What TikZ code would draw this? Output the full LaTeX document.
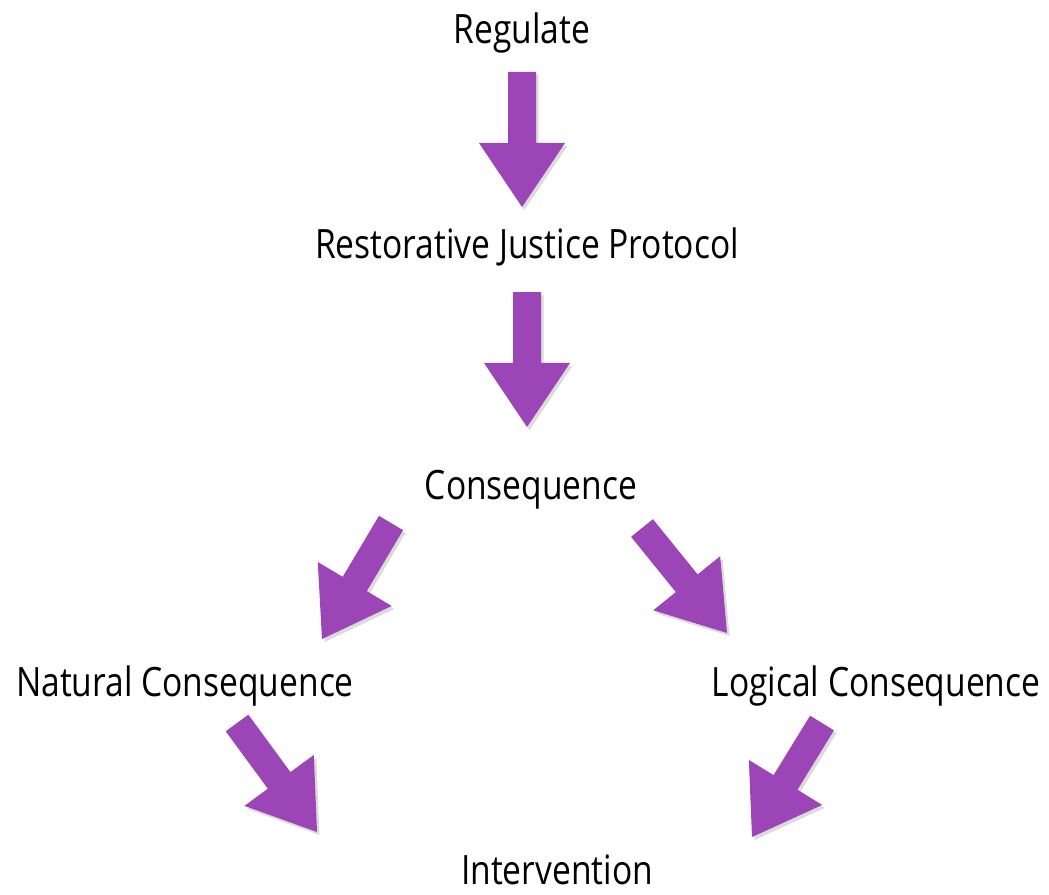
\documentclass[tikz,border=0pt]{standalone}
\usepackage{fontspec}
\setmainfont{Open Sans}[FakeStretch=0.83]
\usetikzlibrary{calc}
\definecolor{arrowpurple}{RGB}{156,69,182}
\newcommand{\FatArrow}[2]{
\coordinate (#2base) at ($(#2)!0.64cm!(#1)$); % Base of the head
\foreach \look in {arrowshadow, fatarrow}{
\path[\look] ($(#1)!0.14cm!90:(#2)$) -- ($(#2base)!0.14cm!-90:(#1)$) -- ($(#2base)!0.43cm!-90:(#1)$)
  -- (#2) -- ($(#2base)!0.43cm!90:(#1)$) -- ($(#2base)!0.14cm!90:(#1)$) -- ($(#1)!0.14cm!-90:(#2)$) -- cycle;
}
}

\begin{document}
\begin{tikzpicture}[x=0.01cm, y=-0.01cm,
stage/.style={inner sep=0, anchor=base, font=\fontsize{11.5}{14}\selectfont},
fatarrow/.style={fill=arrowpurple},
arrowshadow/.style={fill=black, opacity=.14, transform canvas={shift={(0.025cm,-0.03cm)}}},
]
\useasboundingbox (0,0) rectangle (1049,894);

%%%%%%%%%% LABELS %%%%%%%%%%
\node[stage] (reg) at (522,44) {Regulate};
\node[stage] (rjp) at (527,258) {Restorative Justice Protocol};
\node[stage] (cons) at (531,499) {Consequence};
\node[stage] (nat) at (185,696) {Natural Consequence};
\node[stage] (log) at (876,696) {Logical Consequence};
\node[stage] (int) at (557,884) {Intervention};

%%%%%%%%%% ARROW ENDS %%%%%%%%%%
\coordinate (RegTail) at (522,72);
\coordinate (RegTip) at (522,207);
\coordinate (RjpTail) at (527,292);
\coordinate (RjpTip) at (527,427);
\coordinate (ConsLTail) at (391,523);
\coordinate (ConsLTip) at (322,639);
\coordinate (ConsRTail) at (642,528);
\coordinate (ConsRTip) at (727,633);
\coordinate (NatTail) at (237,723);
\coordinate (NatTip) at (317,832);
\coordinate (LogTail) at (822,723);
\coordinate (LogTip) at (752,837);

\FatArrow{RegTail}{RegTip}
\FatArrow{RjpTail}{RjpTip}
\FatArrow{ConsLTail}{ConsLTip}
\FatArrow{ConsRTail}{ConsRTip}
\FatArrow{NatTail}{NatTip}
\FatArrow{LogTail}{LogTip}
\end{tikzpicture}
\end{document}
